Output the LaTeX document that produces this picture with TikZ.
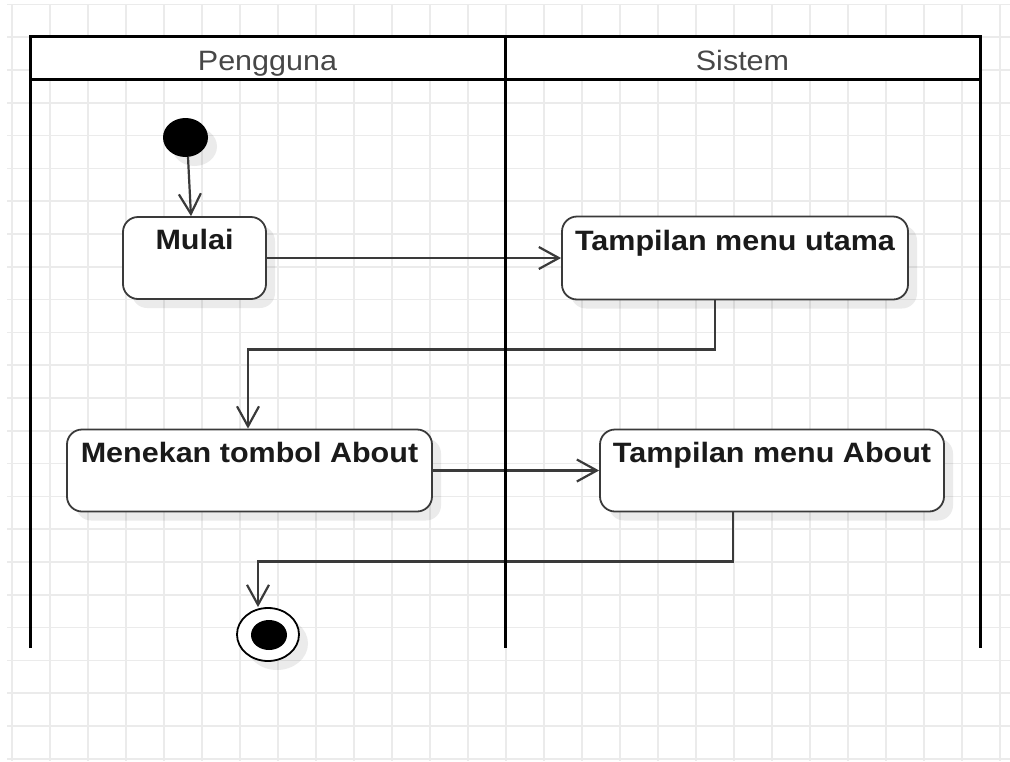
\documentclass[tikz,border=0pt]{standalone}
\usepackage{fontspec}
\setmainfont{Liberation Sans}
\newfontfamily\lanefont[FakeStretch=1.09]{Liberation Sans}
\usetikzlibrary{arrows.meta,shapes.geometric,shadows}

\definecolor{gridgray}{HTML}{EBEBEB}
\definecolor{edgegray}{HTML}{3A3A3A}
\definecolor{textdark}{HTML}{1A1A1A}
\definecolor{headtext}{HTML}{474747}

\begin{document}
\begin{tikzpicture}[x=1pt,y=-1pt,
  gridline/.style={draw=gridgray, line width=1.5pt},
  lane/.style={draw=black, line width=3pt},
  softshadow/.style={drop shadow={shadow xshift=9pt, shadow yshift=-9pt, opacity=0.08, fill=black}},
  action/.style={draw=edgegray, line width=1.8pt, fill=white, rounded corners=15pt,
    inner sep=0pt, softshadow},
  acttxt/.style={font=\lanefont\bfseries\fontsize{28}{32}\selectfont, text=textdark,
    inner sep=0pt, anchor=base},
  headtxt/.style={font=\lanefont\fontsize{28}{32}\selectfont, text=headtext,
    inner sep=0pt, anchor=base},
  conn/.style={draw=edgegray, line width=2.2pt,
    -{Straight Barb[length=20pt, width=22pt]}},
]
\useasboundingbox (0,0) rectangle (1010,761);
\fill[white] (0,0) rectangle (1010,761);

% background grid
\foreach \i in {0,...,26}
  \draw[gridline] ({12+38*\i},4) -- ({12+38*\i},761);
\foreach \j in {0,...,23}
  \draw[gridline] (7,{4.4+32.8*\j}) -- (1010,{4.4+32.8*\j});

% swimlane headers
\fill[white] (30,36) rectangle (980,79);
\node[headtxt] (lane-user) at (267.5,70) {Pengguna};
\node[headtxt] (lane-sys) at (742.5,70) {Sistem};

% initial and final states
\node[ellipse, fill=black, minimum width=45pt, minimum height=39pt, inner sep=0pt,
  softshadow] (start) at (185.5,137.5) {};
\node[ellipse, draw=black, line width=1.8pt, fill=white, minimum width=62pt,
  minimum height=53pt, inner sep=0pt, softshadow] (final) at (268,634.5) {};
\node[ellipse, fill=black, minimum width=36pt, minimum height=30pt, inner sep=0pt]
  (final-dot) at (269,635) {};

% actions
\node[action, minimum width=143pt, minimum height=82pt] (mulai) at (194.5,258) {};
\node[action, minimum width=346pt, minimum height=83pt] (utama) at (735,258) {};
\node[action, minimum width=365pt, minimum height=82pt] (menekan) at (249.5,470.5) {};
\node[action, minimum width=344pt, minimum height=82pt] (about) at (772,470.5) {};

\node[acttxt] (mulai-txt) at ([yshift=-33pt]mulai.north) {Mulai};
\node[acttxt] (utama-txt) at ([yshift=-35pt]utama.north) {Tampilan menu utama};
\node[acttxt] (menekan-txt) at ([yshift=-34pt]menekan.north) {Menekan tombol About};
\node[acttxt] (about-txt) at ([yshift=-34pt]about.north) {Tampilan menu About};

% control flow
\draw[conn] ([xshift=2.5pt]start.south) -- ([xshift=-3.5pt]mulai.north);
\draw[conn] (mulai.east) -- (utama.west);
\draw[conn] ([xshift=-20pt]utama.south) -- ++(0,49) -| ([xshift=-1.5pt]menekan.north);
\draw[conn] (menekan.east) -- (about.west);
\draw[conn] ([xshift=-39pt]about.south) -- ++(0,49) -| ([xshift=-10pt]final.north);

% swimlane borders
\draw[lane] (30,648) -- (30,36) -- (980,36) -- (980,648);
\draw[lane] (30,79) -- (980,79);
\draw[lane] (505,36) -- (505,648);
\end{tikzpicture}
\end{document}
